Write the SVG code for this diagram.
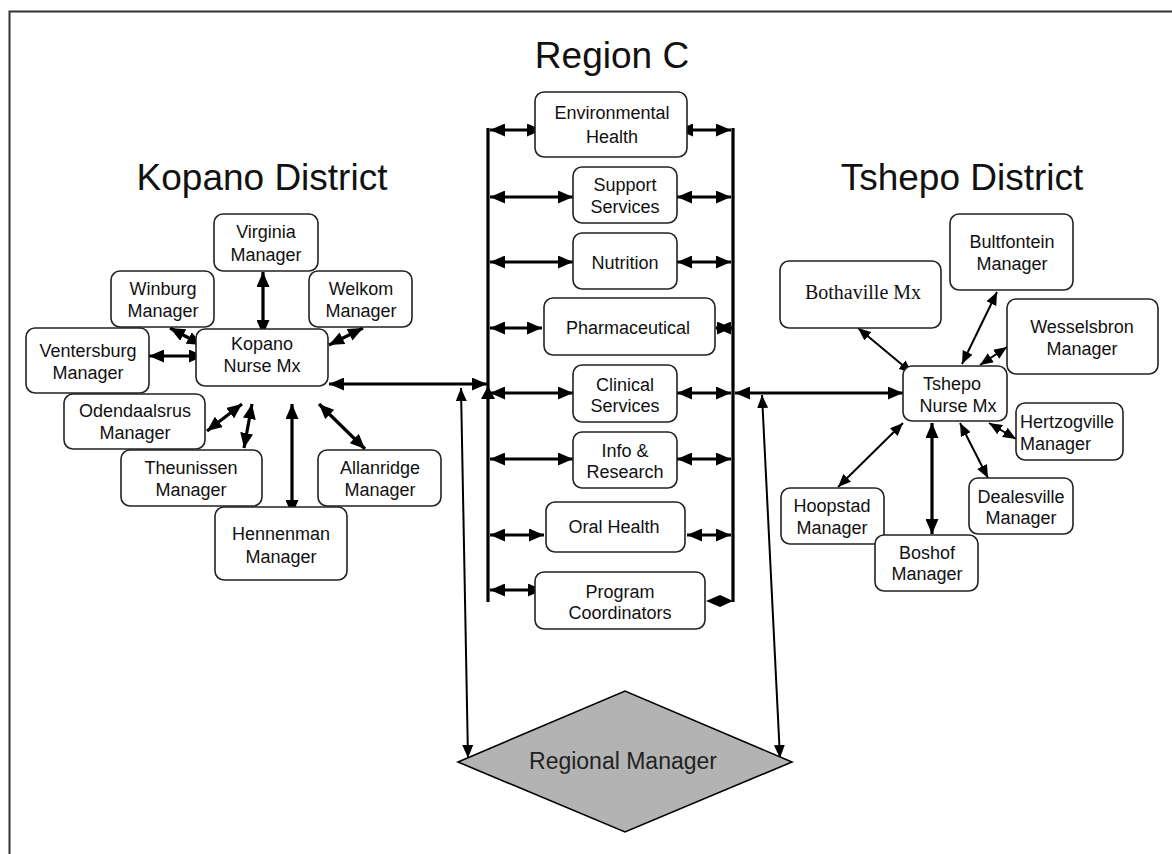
<svg xmlns="http://www.w3.org/2000/svg" width="1172" height="854" viewBox="0 0 1172 854">
<style>
.box{fill:#fff;stroke:#222;stroke-width:1.6}
.t{font-family:"Liberation Sans",Arial,sans-serif;font-size:18px;fill:#111;text-anchor:middle}
.h{font-family:"Liberation Sans",Arial,sans-serif;font-size:37px;fill:#111;text-anchor:middle}
.thick{stroke:#000;stroke-width:3.2;fill:none;marker-start:url(#ah);marker-end:url(#ah)}
.thin{stroke:#000;stroke-width:2;fill:none;marker-start:url(#as);marker-end:url(#as)}
.bus{stroke:#000;stroke-width:3.2;fill:none}
</style>
<defs>
<marker id="ah" markerUnits="userSpaceOnUse" viewBox="0 0 15 13" refX="15" refY="6.5" markerWidth="15" markerHeight="13" orient="auto-start-reverse"><path d="M0,0 L15,6.5 L0,13 z" fill="#000"/></marker>
<marker id="as" markerUnits="userSpaceOnUse" viewBox="0 0 13 11" refX="13" refY="5.5" markerWidth="13" markerHeight="11" orient="auto-start-reverse"><path d="M0,0 L13,5.5 L0,11 z" fill="#000"/></marker>
</defs>
<rect width="1172" height="854" fill="#fff"/>
<rect x="9.5" y="11.5" width="1200" height="900" fill="none" stroke="#333" stroke-width="2"/>

<text class="h" x="612" y="68">Region C</text>
<text class="h" x="262" y="190">Kopano District</text>
<text class="h" x="962" y="190">Tshepo District</text>

<g id="connectors">
<!-- buses -->
<line class="bus" x1="488" y1="128" x2="488" y2="602"/>
<line class="bus" x1="733" y1="128" x2="733" y2="602"/>
<!-- bus arrows -->
<line class="thick" x1="490" y1="130" x2="542" y2="130"/>
<line class="thick" x1="678" y1="130" x2="731" y2="130"/>
<line class="thick" x1="490" y1="197" x2="573" y2="197"/>
<line class="thick" x1="677" y1="197" x2="731" y2="197"/>
<line class="thick" x1="490" y1="262" x2="573" y2="262"/>
<line class="thick" x1="677" y1="262" x2="731" y2="262"/>
<line class="thick" x1="490" y1="328" x2="542" y2="328"/>
<line class="thick" x1="716" y1="328" x2="732" y2="328"/>
<line class="thick" x1="490" y1="393" x2="573" y2="393"/>
<line class="thick" x1="677" y1="393" x2="731" y2="393"/>
<line class="thick" x1="490" y1="459" x2="573" y2="459"/>
<line class="thick" x1="677" y1="459" x2="731" y2="459"/>
<line class="thick" x1="490" y1="535" x2="544" y2="535"/>
<line class="thick" x1="687" y1="535" x2="731" y2="535"/>
<line class="thick" x1="490" y1="590" x2="543" y2="590"/>
<polygon points="706,601 720,595 733,601 720,607" fill="#000"/>
<polygon points="481,399 488,386 495,399" fill="#000"/>
<!-- district links -->
<line class="thick" x1="329" y1="384" x2="487" y2="384"/>
<line class="thick" x1="735" y1="393" x2="903" y2="393"/>
<line class="thin" x1="461" y1="388" x2="468" y2="758"/>
<line class="thin" x1="762" y1="395" x2="780" y2="758"/>
<!-- Kopano cluster -->
<line class="thick" x1="263" y1="272" x2="263" y2="335"/>
<line class="thick" x1="170" y1="328" x2="202" y2="345"/>
<line class="thick" x1="363" y1="328" x2="329" y2="345"/>
<line class="thick" x1="149" y1="356" x2="204" y2="356"/>
<line class="thick" x1="207" y1="431" x2="242" y2="404"/>
<line class="thick" x1="244" y1="448" x2="252" y2="404"/>
<line class="thick" x1="292" y1="404" x2="292" y2="515"/>
<line class="thick" x1="319" y1="404" x2="365" y2="449"/>
<!-- Tshepo cluster -->
<line class="thin" x1="858" y1="328" x2="912" y2="373"/>
<line class="thin" x1="997" y1="292" x2="962" y2="364"/>
<line class="thin" x1="1007" y1="347" x2="980" y2="365"/>
<line class="thin" x1="989" y1="423" x2="1016" y2="439"/>
<line class="thin" x1="960" y1="423" x2="988" y2="478"/>
<line class="thick" x1="932" y1="423" x2="932" y2="534"/>
<line class="thin" x1="903" y1="423" x2="838" y2="487"/>
</g>

<g id="environmental-health"><rect class="box" x="535" y="92" width="152" height="65" rx="9"/><text class="t" x="612" y="119">Environmental</text><text class="t" x="612" y="143">Health</text></g>
<g id="support-services"><rect class="box" x="573" y="167" width="104" height="56" rx="9"/><text class="t" x="625" y="191">Support</text><text class="t" x="625" y="213">Services</text></g>
<g id="nutrition"><rect class="box" x="573" y="233" width="104" height="56" rx="9"/><text class="t" x="625" y="269">Nutrition</text></g>
<g id="pharmaceutical"><rect class="box" x="544" y="298" width="171" height="57" rx="9"/><text class="t" x="628" y="334">Pharmaceutical</text></g>
<g id="clinical-services"><rect class="box" x="573" y="365" width="104" height="57" rx="9"/><text class="t" x="625" y="391">Clinical</text><text class="t" x="625" y="412">Services</text></g>
<g id="info-research"><rect class="box" x="573" y="432" width="104" height="56" rx="9"/><text class="t" x="625" y="457">Info &amp;</text><text class="t" x="625" y="478">Research</text></g>
<g id="oral-health"><rect class="box" x="546" y="502" width="139" height="50" rx="9"/><text class="t" x="614" y="533">Oral Health</text></g>
<g id="program-coordinators"><rect class="box" x="535" y="572" width="170" height="57" rx="9"/><text class="t" x="620" y="598">Program</text><text class="t" x="620" y="619">Coordinators</text></g>

<g id="virginia"><rect class="box" x="214" y="214" width="104" height="57" rx="9"/><text class="t" x="266" y="238">Virginia</text><text class="t" x="266" y="261">Manager</text></g>
<g id="winburg"><rect class="box" x="111" y="271" width="103" height="56" rx="9"/><text class="t" x="163" y="295">Winburg</text><text class="t" x="163" y="317">Manager</text></g>
<g id="welkom"><rect class="box" x="309" y="271" width="103" height="56" rx="9"/><text class="t" x="361" y="295">Welkom</text><text class="t" x="361" y="317">Manager</text></g>
<g id="ventersburg"><rect class="box" x="26" y="328" width="123" height="65" rx="9"/><text class="t" x="88" y="357">Ventersburg</text><text class="t" x="88" y="379">Manager</text></g>
<g id="kopano-nurse"><rect class="box" x="196" y="329" width="132" height="57" rx="9"/><text class="t" x="262" y="350">Kopano</text><text class="t" x="262" y="372">Nurse Mx</text></g>
<g id="odendaalsrus"><rect class="box" x="64" y="394" width="141" height="55" rx="9"/><text class="t" x="135" y="417">Odendaalsrus</text><text class="t" x="135" y="439">Manager</text></g>
<g id="theunissen"><rect class="box" x="121" y="450" width="141" height="56" rx="9"/><text class="t" x="191" y="474">Theunissen</text><text class="t" x="191" y="496">Manager</text></g>
<g id="allanridge"><rect class="box" x="318" y="450" width="123" height="56" rx="9"/><text class="t" x="380" y="474">Allanridge</text><text class="t" x="380" y="496">Manager</text></g>
<g id="hennenman"><rect class="box" x="215" y="507" width="132" height="73" rx="9"/><text class="t" x="281" y="540">Hennenman</text><text class="t" x="281" y="563">Manager</text></g>

<g id="bothaville"><rect class="box" x="780" y="261" width="161" height="67" rx="9"/><text x="863" y="299" style="font-family:'Liberation Serif','Times New Roman',serif;font-size:20px;fill:#111;text-anchor:middle">Bothaville Mx</text></g>
<g id="bultfontein"><rect class="box" x="950" y="214" width="123" height="76" rx="9"/><text class="t" x="1012" y="248">Bultfontein</text><text class="t" x="1012" y="270">Manager</text></g>
<g id="wesselsbron"><rect class="box" x="1007" y="299" width="151" height="75" rx="9"/><text class="t" x="1082" y="333">Wesselsbron</text><text class="t" x="1082" y="355">Manager</text></g>
<g id="tshepo-nurse"><rect class="box" x="903" y="366" width="104" height="55" rx="9"/><text class="t" x="952" y="390">Tshepo</text><text class="t" x="958" y="412">Nurse Mx</text></g>
<g id="hertzogville"><rect class="box" x="1016" y="403" width="107" height="57" rx="9"/><text class="t" x="1020" y="428" style="text-anchor:start">Hertzogville</text><text class="t" x="1020" y="450" style="text-anchor:start">Manager</text></g>
<g id="dealesville"><rect class="box" x="969" y="478" width="104" height="56" rx="9"/><text class="t" x="1021" y="503">Dealesville</text><text class="t" x="1021" y="524">Manager</text></g>
<g id="hoopstad"><rect class="box" x="781" y="488" width="103" height="56" rx="9"/><text class="t" x="832" y="512">Hoopstad</text><text class="t" x="832" y="534">Manager</text></g>
<g id="boshof"><rect class="box" x="875" y="535" width="103" height="56" rx="9"/><text class="t" x="927" y="559">Boshof</text><text class="t" x="927" y="580">Manager</text></g>

<g id="regional-manager"><polygon points="458,762 625,691 792,762 625,832" fill="#b3b3b3" stroke="#000" stroke-width="1.6"/><text x="623" y="769" style="font-family:'Liberation Sans',Arial,sans-serif;font-size:23px;fill:#222;text-anchor:middle">Regional Manager</text></g>
</svg>
